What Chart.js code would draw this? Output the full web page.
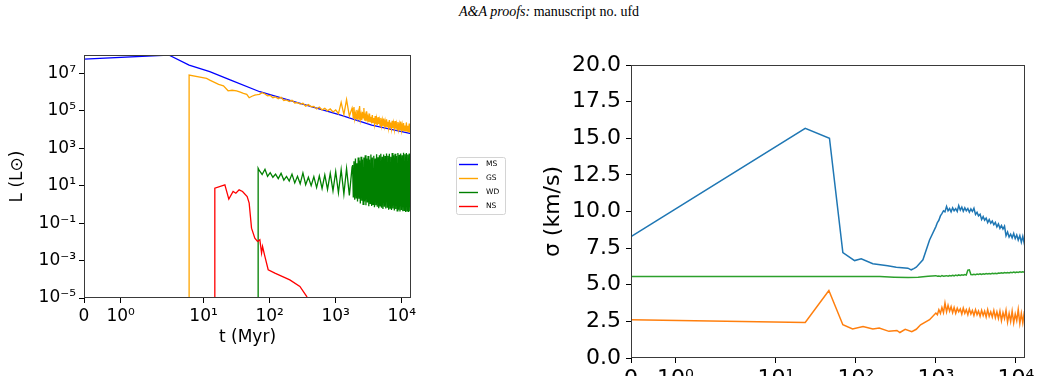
<!DOCTYPE html>
<html>
<head>
<meta charset="utf-8">
<title>Luminosity and velocity dispersion</title>
<script src="https://cdn.jsdelivr.net/npm/chart.js@4.4.1/dist/chart.umd.min.js"></script>
<style>
    html, body { margin: 0; padding: 0; background: #fff; width: 1042px; height: 376px; overflow: hidden; }
    #header { position: absolute; left: 459px; top: 4px; font-family: 'Liberation Serif', serif; font-size: 14px; color: #000; white-space: nowrap; }
    #lum-chart { position: absolute; left: 0; top: 0; }
    #disp-chart { position: absolute; left: 520px; top: 0; }
</style>
</head>
<body>
<div id="header"><i>A&amp;A proofs:</i> manuscript no. ufd</div>
<canvas id="lum-chart" width="520" height="376"></canvas>
<canvas id="disp-chart" width="522" height="440"></canvas>
<script>
// ---- Ticks ----
const timeTicks = [0, 1, 10, 100, 1000, 10000];
const timeTickLabels = ['0', '10⁰', '10¹', '10²', '10³', '10⁴'];
const lumTicks = [1e-5, 1e-3, 1e-1, 1e1, 1e3, 1e5, 1e7];
const lumTickLabels = ['10⁻⁵', '10⁻³', '10⁻¹', '10¹', '10³', '10⁵', '10⁷'];

// ---- Left panel: luminosity (log10 L) ----
const msTime = [0, 2.97, 6.04, 12.4, 25.8, 71, 190, 1159, 3508, 13800];
const msLogL = [7.76, 7.98, 7.44, 7.09, 6.64, 6.02, 5.58, 4.78, 4.24, 3.78];

const gsEarlyTime = [6.04, 6.04, 11.1, 12.4, 16.9, 20, 23.5, 27, 31.6, 36, 40.1, 45, 49, 54, 59.6, 65];
const gsEarlyLogL = [-9, 6.91, 6.73, 6.64, 6.41, 6.33, 6.07, 6.10, 6.07, 6.00, 5.93, 5.88, 5.70, 5.78, 5.84, 5.86];

const wdEarlyTime = [67, 67];
const wdEarlyLogL = [-9, 1.93];

// shared sampling for the noisy middle part of GS and WD
const midTime = [70, 77, 85, 93, 102, 112, 123, 135, 149, 164, 180, 198, 218, 240, 264, 290, 319, 351, 386, 425,
    467, 514, 565, 622, 684, 752, 827, 910, 1000, 1100, 1210, 1330, 1460, 1610, 1770];
const gsMidLogL = [5.88, 5.97, 5.90, 5.80, 5.82, 5.70, 5.74, 5.65, 5.72, 5.55, 5.58, 5.50, 5.56, 5.42, 5.44, 5.36,
    5.40, 5.25, 5.33, 5.22, 5.24, 5.10, 5.20, 5.05, 5.14, 5.00, 5.10, 4.94, 5.05, 4.85, 5.45, 4.80, 5.60, 4.72, 5.15];
const wdMidLogL = [1.80, 1.60, 1.88, 1.50, 1.70, 1.45, 1.62, 1.38, 1.66, 1.30, 1.50, 1.25, 1.62, 1.15, 1.50, 1.10,
    1.68, 1.05, 1.45, 1.00, 1.48, 0.90, 1.52, 0.85, 1.58, 0.80, 1.66, 0.72, 1.75, 0.62, 1.85, 0.55, 1.92, 0.48, 2.00];

// denser sampling for the late, very noisy part
const lateTime = [1800, 1845, 1890, 1940, 1990, 2040, 2090, 2140, 2190, 2250,
    2300, 2360, 2420, 2480, 2540, 2600, 2670, 2730, 2800, 2870,
    2940, 3020, 3090, 3170, 3250, 3330, 3410, 3500, 3580, 3670,
    3770, 3860, 3960, 4060, 4160, 4260, 4370, 4480, 4590, 4700,
    4820, 4940, 5070, 5190, 5320, 5460, 5590, 5730, 5880, 6030,
    6180, 6330, 6490, 6650, 6820, 6990, 7160, 7340, 7530, 7720,
    7910, 8110, 8310, 8520, 8730, 8950, 9170, 9400, 9640, 9880,
    10130, 10380, 10640, 10900, 11180, 11460, 11740, 12040, 12340, 12650,
    12960, 13290, 13620, 13800];
const gsLateLogL = [4.95, 4.62, 5.20, 4.60, 4.85, 4.58, 5.05, 4.66, 4.90, 4.52,
    5.25, 4.55, 4.80, 4.50, 4.95, 4.62, 5.15, 4.48, 4.75, 4.45,
    4.98, 4.52, 4.70, 4.40, 4.85, 4.42, 4.68, 4.33, 4.78, 4.38,
    4.62, 4.30, 4.72, 4.28, 4.58, 4.24, 4.66, 4.30, 4.52, 4.20,
    4.62, 4.22, 4.50, 4.18, 4.58, 4.20, 4.45, 4.14, 4.55, 4.16,
    4.42, 4.10, 4.50, 4.12, 4.38, 4.06, 4.47, 4.08, 4.35, 4.02,
    4.45, 4.05, 4.30, 3.99, 4.40, 4.02, 4.28, 3.96, 4.42, 3.98,
    4.25, 3.93, 4.35, 3.95, 4.22, 3.90, 4.38, 3.92, 4.20, 3.86,
    4.32, 3.84, 4.18, 3.90];
const wdLateLogL = [2.10, 0.40, 2.30, 0.25, 2.45, 0.35, 2.20, 0.15, 2.50, 0.30,
    2.35, 0.05, 2.55, 0.20, 2.40, 0.00, 2.50, 0.15, 2.62, -0.05,
    2.45, 0.10, 2.58, -0.10, 2.40, 0.05, 2.66, -0.08, 2.50, 0.00,
    2.60, -0.15, 2.45, -0.05, 2.68, -0.12, 2.52, -0.20, 2.62, -0.08,
    2.70, -0.18, 2.55, -0.25, 2.66, -0.12, 2.58, -0.22, 2.72, -0.15,
    2.60, -0.28, 2.70, -0.20, 2.55, -0.30, 2.74, -0.22, 2.62, -0.32,
    2.70, -0.25, 2.58, -0.35, 2.75, -0.28, 2.65, -0.38, 2.72, -0.30,
    2.62, -0.36, 2.76, -0.32, 2.68, -0.40, 2.74, -0.34, 2.66, -0.40,
    2.72, -0.36, 2.70, 0.10];

const nsTime = [14.8, 14.8, 21.0, 24.1, 28.0, 30.8, 34.5, 38.9, 45.7, 49.0, 53.2, 59.7, 65.6, 71.1, 75.5, 78.1,
    84.7, 95.1, 120, 202, 287, 363, 420];
const nsLogL = [-9, 0.87, 1.04, 0.28, 0.69, 0.60, 0.78, 0.69, 0.42, 0.07, -1.27, -1.80, -1.98, -1.89, -2.60, -2.25,
    -2.78, -3.49, -3.67, -4.03, -4.38, -4.91, -5.5];

// ---- Right panel: velocity dispersion (km/s) ----
const sigmaTicks = [0, 2.5, 5, 7.5, 10, 12.5, 15, 17.5, 20];

const blueEarlyTime = [0, 23.3, 46.8, 68.8, 96.4, 116.7, 163, 250, 320, 447, 492, 530, 569, 689, 834];
const blueEarlySigma = [8.29, 15.68, 15.0, 7.2, 6.65, 6.77, 6.43, 6.3, 6.2, 6.13, 6.02, 6.1, 6.2, 6.7, 8.06];
const orangeEarlyTime = [0, 23.3, 46.0, 68.8, 91, 123, 163, 196, 259, 326, 355, 414, 500, 569, 644, 834];
const orangeEarlySigma = [2.61, 2.43, 4.61, 2.27, 1.98, 2.15, 1.98, 2.04, 1.82, 1.88, 1.74, 1.96, 1.80, 1.96, 2.27, 2.61];
const greenEarlyTime = [0, 200, 300, 450, 600, 800, 900];
const greenEarlySigma = [5.56, 5.56, 5.52, 5.50, 5.52, 5.58, 5.60];

const sigmaLateTime = [1000, 1045, 1090, 1140, 1190, 1245, 1300, 1360, 1420, 1485, 1550, 1620, 1690, 1770, 1850,
    1930, 2020, 2110, 2200, 2300, 2400, 2510, 2620, 2740, 2860, 2990, 3130, 3270, 3410, 3570, 3730, 3900, 4070,
    4250, 4440, 4640, 4850, 5070, 5300, 5540, 5790, 6050, 6320, 6600, 6900, 7210, 7530, 7870, 8230, 8600, 8980,
    9390, 9810, 10250, 10700, 11200, 11700, 12200, 12800, 13000];
const blueLateSigma = [8.97, 9.25, 9.40, 9.70, 9.85, 10.05, 9.98, 10.35, 10.05, 10.20, 9.98, 10.25, 10.05, 10.20,
    10.00, 10.40, 10.10, 10.30, 10.02, 10.25, 10.05, 10.20, 9.95, 10.18, 10.00, 10.22, 9.80, 9.95, 9.70, 9.82,
    9.45, 9.65, 9.40, 9.55, 9.25, 9.45, 9.20, 9.35, 9.10, 9.25, 8.95, 9.15, 8.85, 9.05, 8.80, 9.00, 8.35, 8.60,
    8.25, 8.45, 8.20, 8.50, 8.15, 8.40, 8.05, 8.35, 7.90, 8.30, 7.75, 8.05];
const orangeLateSigma = [3.07, 2.95, 3.30, 3.05, 3.45, 3.10, 3.75, 3.15, 3.60, 3.20, 3.50, 3.10, 3.45, 3.05, 3.40,
    3.15, 3.35, 3.00, 3.40, 3.05, 3.30, 2.95, 3.35, 3.00, 3.25, 2.90, 3.30, 2.95, 3.20, 2.85, 3.25, 2.90, 3.20,
    2.80, 3.30, 2.85, 3.15, 2.80, 3.25, 2.75, 3.15, 2.70, 3.20, 2.55, 3.10, 2.70, 3.25, 2.45, 3.05, 2.50, 3.20,
    2.40, 3.00, 2.55, 3.30, 2.35, 3.05, 2.40, 3.20, 2.55];
const greenLateSigma = [5.62, 5.58, 5.60, 5.56, 5.62, 5.58, 5.60, 5.62, 5.58, 5.63, 5.60, 5.65, 5.61, 5.66, 5.62,
    5.67, 5.63, 5.68, 5.65, 5.70, 5.66, 6.00, 6.02, 5.70, 5.68, 5.72, 5.69, 5.73, 5.70, 5.74, 5.71, 5.75, 5.72,
    5.76, 5.73, 5.77, 5.74, 5.78, 5.75, 5.79, 5.76, 5.80, 5.78, 5.82, 5.79, 5.83, 5.80, 5.84, 5.81, 5.85, 5.82,
    5.86, 5.83, 5.87, 5.84, 5.88, 5.85, 5.89, 5.86, 5.88];

// ---- Symmetric log scale (linear below 2, log above), like matplotlib symlog ----
const LIN_THRESH = 2;
const LIN_SCALE = 1 / (1 - 1 / 10);

function symlog(v) {
    const a = Math.abs(v);
    const s = a <= LIN_THRESH ? a * LIN_SCALE / LIN_THRESH : LIN_SCALE + Math.log10(a / LIN_THRESH);
    return v < 0 ? -s : s;
}

function symexp(p) {
    const a = Math.abs(p);
    const v = a <= LIN_SCALE ? a * LIN_THRESH / LIN_SCALE : LIN_THRESH * Math.pow(10, a - LIN_SCALE);
    return p < 0 ? -v : v;
}

class SymlogScale extends Chart.LinearScale {
    getPixelForValue(value) {
        const lo = symlog(this.min), hi = symlog(this.max);
        return this.getPixelForDecimal((symlog(value) - lo) / (hi - lo));
    }
    getValueForPixel(pixel) {
        const lo = symlog(this.min), hi = symlog(this.max);
        return symexp(lo + this.getDecimalForPixel(pixel) * (hi - lo));
    }
}
SymlogScale.id = 'symlog';
SymlogScale.defaults = {};
Chart.register(SymlogScale);

Chart.defaults.font.family = "'DejaVu Sans', sans-serif";
Chart.defaults.color = '#000';

// helpers
function toPoints(times, values, isLog) {
    return times.map((t, i) => ({ x: t, y: isLog ? Math.pow(10, values[i]) : values[i] }));
}

// Box round the plot area (matplotlib spines)
const framePlugin = {
    id: 'frame',
    afterDatasetsDraw(chart) {
        const { ctx, chartArea: a } = chart;
        ctx.save();
        ctx.strokeStyle = '#3a3a3a';
        ctx.lineWidth = 1;
        ctx.strokeRect(Math.round(a.left) + 0.5, Math.round(a.top) + 0.5,
            Math.round(a.right - a.left) - 1, Math.round(a.bottom - a.top) - 1);
        ctx.restore();
    }
};

// Small boxed legend placed to the right of the left panel
const legendBoxPlugin = {
    id: 'legendBox',
    afterDraw(chart) {
        const { ctx, chartArea: a } = chart;
        const x = a.right + 45, y = a.top + 102, w = 49, h = 57;
        ctx.save();
        ctx.fillStyle = '#fff';
        ctx.strokeStyle = '#d4d4d4';
        ctx.lineWidth = 1;
        ctx.beginPath();
        if (ctx.roundRect) ctx.roundRect(x + 0.5, y + 0.5, w, h, 2);
        else ctx.rect(x + 0.5, y + 0.5, w, h);
        ctx.fill();
        ctx.stroke();
        ctx.font = "7.5px 'DejaVu Sans'";
        ctx.textBaseline = 'middle';
        chart.data.datasets.forEach((ds, i) => {
            const yy = y + 7.5 + i * 14;
            ctx.strokeStyle = ds.borderColor;
            ctx.lineWidth = 1.4;
            ctx.beginPath();
            ctx.moveTo(x + 3, yy);
            ctx.lineTo(x + 22, yy);
            ctx.stroke();
            ctx.fillStyle = '#000';
            ctx.fillText(ds.label, x + 30, yy);
        });
        ctx.restore();
    }
};

function timeAxis(max, fontSize, height, titlePad) {
    return {
        type: 'symlog',
        min: 0,
        max: max,
        bounds: 'data',
        afterBuildTicks: scale => { scale.ticks = timeTicks.map(v => ({ value: v })); },
        afterFit: scale => { scale.height = height; },
        ticks: {
            callback: (v, i) => timeTickLabels[i],
            autoSkip: false, maxRotation: 0, minRotation: 0, padding: 3,
            color: '#000', font: { size: fontSize }
        },
        grid: { drawOnChartArea: false, tickLength: 5, color: '#000', tickWidth: 1 },
        border: { display: false },
        title: { display: true, text: 't (Myr)', color: '#000', font: { size: fontSize }, padding: { top: 0, bottom: titlePad } }
    };
}

initCharts();

function initCharts() {
    // Luminosity panel
    new Chart(document.getElementById('lum-chart'), {
        type: 'line',
        data: {
            datasets: [
                { label: 'MS', data: toPoints(msTime, msLogL, true), borderColor: 'blue', order: 4 },
                { label: 'GS', data: toPoints(gsEarlyTime.concat(midTime, lateTime), gsEarlyLogL.concat(gsMidLogL, gsLateLogL), true), borderColor: 'orange', order: 3 },
                { label: 'WD', data: toPoints(wdEarlyTime.concat(midTime, lateTime), wdEarlyLogL.concat(wdMidLogL, wdLateLogL), true), borderColor: 'green', order: 2 },
                { label: 'NS', data: toPoints(nsTime, nsLogL, true), borderColor: 'red', order: 1 }
            ]
        },
        options: {
            responsive: false,
            animation: false,
            devicePixelRatio: 1,
            layout: { padding: { top: 55, right: 109, left: 0, bottom: 0 } },
            elements: { point: { radius: 0 }, line: { borderWidth: 1.3, tension: 0, fill: false } },
            plugins: { legend: { display: false }, tooltip: { enabled: false } },
            scales: {
                x: timeAxis(13800, 17, 78, 28),
                y: {
                    type: 'logarithmic',
                    min: 1e-5,
                    max: 9.6e7,
                    bounds: 'data',
                    afterBuildTicks: scale => { scale.ticks = lumTicks.map(v => ({ value: v })); },
                    afterFit: scale => { scale.width = 84; },
                    ticks: { callback: (v, i) => lumTickLabels[i], autoSkip: false, padding: 3, color: '#000', font: { size: 17 } },
                    grid: { drawOnChartArea: false, tickLength: 5, color: '#000' },
                    border: { display: false },
                    title: { display: true, text: 'L (L⊙)', color: '#000', font: { size: 17 }, padding: { top: 7, bottom: 0 } }
                }
            }
        },
        plugins: [framePlugin, legendBoxPlugin]
    });

    // Velocity dispersion panel
    new Chart(document.getElementById('disp-chart'), {
        type: 'line',
        data: {
            datasets: [
                { label: 'σ blue', data: toPoints(blueEarlyTime.concat(sigmaLateTime), blueEarlySigma.concat(blueLateSigma)), borderColor: '#1f77b4', order: 3 },
                { label: 'σ orange', data: toPoints(orangeEarlyTime.concat(sigmaLateTime), orangeEarlySigma.concat(orangeLateSigma)), borderColor: '#ff7f0e', order: 2 },
                { label: 'σ green', data: toPoints(greenEarlyTime.concat(sigmaLateTime), greenEarlySigma.concat(greenLateSigma)), borderColor: '#2ca02c', order: 1 }
            ]
        },
        options: {
            responsive: false,
            animation: false,
            devicePixelRatio: 1,
            layout: { padding: { top: 65, right: 17, left: 0, bottom: 0 } },
            elements: { point: { radius: 0 }, line: { borderWidth: 1.5, tension: 0, fill: false } },
            plugins: { legend: { display: false }, tooltip: { enabled: false } },
            scales: {
                x: timeAxis(13000, 22, 82, 20),
                y: {
                    type: 'linear',
                    min: 0,
                    max: 20,
                    afterBuildTicks: scale => { scale.ticks = sigmaTicks.map(v => ({ value: v })); },
                    afterFit: scale => { scale.width = 111; },
                    ticks: { callback: v => v.toFixed(1), autoSkip: false, padding: 5, color: '#000', font: { size: 22 } },
                    grid: { drawOnChartArea: false, tickLength: 5, color: '#000' },
                    border: { display: false },
                    title: { display: true, text: 'σ (km/s)', color: '#000', font: { size: 22 }, padding: { top: 20, bottom: 0 } }
                }
            }
        },
        plugins: [framePlugin]
    });
}
</script>
</body>
</html>
